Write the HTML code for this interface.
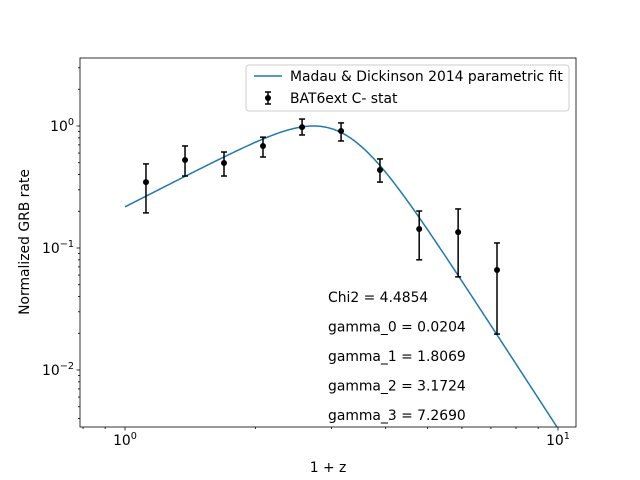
<!DOCTYPE html>
<html><head><meta charset="utf-8"><style>body{margin:0;background:#fff}svg{display:block;font-family:"DejaVu Sans","Liberation Sans",sans-serif}</style></head>
<body>
<svg id="c" width="640" height="480" xmlns="http://www.w3.org/2000/svg"></svg>
<script>
const xs=[1.118,1.376,1.693,2.083,2.564,3.155,3.88,4.78,5.88,7.23];
const ys=[0.347,0.526,0.497,0.686,0.98,0.91,0.436,0.143,0.135,0.066];
const yHi=[0.489,0.686,0.612,0.81,1.14,1.06,0.537,0.201,0.209,0.110];
const yLo=[0.194,0.389,0.389,0.557,0.844,0.754,0.347,0.080,0.058,0.0197];
const params=[0.0204,1.8069,3.1724,7.2690];
const statLabels=["Chi2 = 4.4854","gamma_0 = 0.0204","gamma_1 = 1.8069","gamma_2 = 3.1724","gamma_3 = 7.2690"];
const L=80,R=576,T=58,B=427;
const X=v=>125+433*Math.log10(v);
const Y=v=>126-122*Math.log10(v);
const svg=document.getElementById('c');
const NS='http://www.w3.org/2000/svg';
function mk(t,a,p){const e=document.createElementNS(NS,t);for(const k in a)e.setAttribute(k,a[k]);(p||svg).appendChild(e);return e;}
const defs=mk('defs',{});const cp=mk('clipPath',{id:'clip'},defs);mk('rect',{x:L,y:T,width:R-L,height:B-T},cp);
// ticks x
for(let d=-1;d<=1;d++)for(let m=1;m<10;m++){const v=m*Math.pow(10,d);const px=X(v);if(px<L||px>R)continue;
 const major=m===1;const t=mk('line',{x1:px,x2:px,y1:B,y2:B+(major?3.5:2),stroke:'#000','stroke-width':0.8});
 
 if(major){const tx=mk('text',{x:px,y:B+18,'font-size':'13.9','text-anchor':'middle'});
 tx.innerHTML='10<tspan dy="-6" font-size="9.7">'+d+'</tspan>';}}
for(let d=-3;d<=0;d++)for(let m=1;m<10;m++){const v=m*Math.pow(10,d);const py=Y(v);if(py<T||py>B)continue;
 const major=m===1;const t=mk('line',{y1:py,y2:py,x1:L,x2:L-(major?3.5:2),stroke:'#000','stroke-width':0.8});
 
 if(major){const tx=mk('text',{x:L-6,y:py+5,'font-size':'13.9','text-anchor':'end'});
 tx.innerHTML='10<tspan dy="-6" font-size="9.7">'+(d===0?'0':'\u2212'+(-d))+'</tspan>';}}
// curve
const g=params;const f=x=>Math.pow(x,g[1])/(1+Math.pow(x/g[2],g[3]));
let mx=0;for(let x=1;x<=10;x+=0.001)mx=Math.max(mx,f(x));
let d='';for(let i=0;i<=400;i++){const x=Math.pow(10,i/400);d+=(i?'L':'M')+X(x).toFixed(2)+','+Y(f(x)/mx).toFixed(2);}
const cur=mk('path',{d:d,fill:'none',stroke:'#1f77b4','stroke-width':1.5,'clip-path':'url(#clip)'});

// points
for(let i=0;i<xs.length;i++){const px=X(xs[i]);
 const gg=mk('g',{});
 mk('line',{x1:px,x2:px,y1:Y(yHi[i]),y2:Y(yLo[i]),stroke:'#000','stroke-width':1.5},gg);
 mk('line',{x1:px-3,x2:px+3,y1:Y(yHi[i]),y2:Y(yHi[i]),stroke:'#000','stroke-width':1.5},gg);
 mk('line',{x1:px-3,x2:px+3,y1:Y(yLo[i]),y2:Y(yLo[i]),stroke:'#000','stroke-width':1.5},gg);
 mk('circle',{cx:px,cy:Y(ys[i]),r:3,fill:'#000'},gg);}
// stats text
statLabels.forEach((s,i)=>{const t=mk('text',{x:328,y:302+i*29.5,'font-size':'13.9'});t.textContent=s;
 });
// frame
const fr=mk('rect',{x:L,y:T,width:R-L,height:B-T,fill:'none',stroke:'#000','stroke-width':0.8});

// labels
const xl=mk('text',{x:328,y:472,'font-size':'13.9','text-anchor':'middle'});xl.textContent='1 + z';

const yl=mk('text',{x:29,y:242,'font-size':'13.9','text-anchor':'middle',transform:'rotate(-90 29 242)'});yl.textContent='Normalized GRB rate';

// legend
const lg=mk('g',{});
mk('rect',{x:246,y:65,width:323,height:46,rx:3,fill:'#fff','fill-opacity':0.8,stroke:'#ccc','stroke-width':1},lg);
mk('line',{x1:254,x2:282,y1:76,y2:76,stroke:'#1f77b4','stroke-width':1.5},lg);
const t1=mk('text',{x:290,y:81,'font-size':'13.9'},lg);t1.textContent='Madau & Dickinson 2014 parametric fit';

mk('line',{x1:268,x2:268,y1:92,y2:104,stroke:'#000','stroke-width':1.5},lg);
mk('line',{x1:265,x2:271,y1:92,y2:92,stroke:'#000','stroke-width':1.5},lg);
mk('line',{x1:265,x2:271,y1:104,y2:104,stroke:'#000','stroke-width':1.5},lg);
mk('circle',{cx:268,cy:98,r:3,fill:'#000'},lg);
const t2=mk('text',{x:290,y:103,'font-size':'13.9'},lg);t2.textContent='BAT6ext C- stat';

</script>
</body></html>
